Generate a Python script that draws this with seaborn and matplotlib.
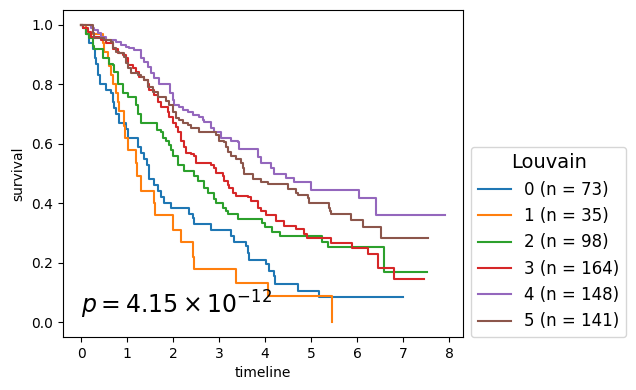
import matplotlib
matplotlib.use("Agg")
import matplotlib.pyplot as plt
import seaborn as sns
import pandas as pd

# Kaplan-Meier step curves: (time, survival after step)
labels = ["0 (n = 73)", "1 (n = 35)", "2 (n = 98)", "3 (n = 164)", "4 (n = 148)", "5 (n = 141)"]

times_0 = [0, 0.05, 0.1, 0.17, 0.26, 0.3, 0.33, 0.37, 0.4, 0.55, 0.65, 0.7, 0.72, 0.76, 0.83, 0.98, 1.02,
           1.24, 1.30, 1.37, 1.44, 1.48, 1.59, 1.67, 1.74, 1.80, 1.96, 2.35, 2.43, 2.46, 2.83, 3.26, 3.33,
           3.59, 3.63, 3.65, 4.02, 4.09, 4.2, 4.22, 4.72, 5.17, 7.0]
surv_0 = [1.0, 0.99, 0.97, 0.94, 0.92, 0.89, 0.87, 0.83, 0.80, 0.78, 0.77, 0.74, 0.72, 0.70, 0.67, 0.65, 0.62,
          0.59, 0.57, 0.55, 0.53, 0.48, 0.46, 0.44, 0.42, 0.40, 0.385, 0.365, 0.35, 0.33, 0.31, 0.29, 0.27,
          0.257, 0.233, 0.21, 0.195, 0.172, 0.155, 0.127, 0.105, 0.084, 0.084]

times_1 = [0, 0.11, 0.48, 0.5, 0.59, 0.61, 0.65, 0.7, 0.76, 0.8, 0.83, 0.93, 0.95, 1.02, 1.2, 1.21, 1.3,
           1.59, 1.60, 2.0, 2.17, 2.43, 2.46, 3.37, 4.06, 5.45]
surv_1 = [1.0, 0.97, 0.94, 0.91, 0.89, 0.86, 0.83, 0.80, 0.77, 0.74, 0.71, 0.66, 0.62, 0.58, 0.535, 0.49, 0.44,
          0.40, 0.36, 0.31, 0.27, 0.22, 0.178, 0.133, 0.088, 0.0]

times_2 = [0, 0.04, 0.11, 0.17, 0.26, 0.28, 0.48, 0.61, 0.7, 0.72, 0.8, 0.81, 0.91, 1.02, 1.2, 1.24, 1.3,
           1.65, 1.74, 1.78, 1.85, 1.91, 1.96, 2.0, 2.11, 2.24, 2.46, 2.54, 2.67, 2.76, 2.89, 2.93, 3.09,
           3.15, 3.2, 3.41, 3.93, 4.0, 4.15, 4.33, 5.24, 5.37, 6.59, 7.52]
surv_2 = [1.0, 0.99, 0.97, 0.955, 0.93, 0.92, 0.89, 0.87, 0.865, 0.84, 0.825, 0.80, 0.77, 0.757, 0.73, 0.70, 0.67,
          0.645, 0.64, 0.62, 0.61, 0.595, 0.58, 0.56, 0.527, 0.507, 0.493, 0.476, 0.45, 0.436, 0.415, 0.40, 0.385,
          0.375, 0.365, 0.348, 0.335, 0.32, 0.304, 0.29, 0.27, 0.253, 0.167, 0.167]

times_3 = [0, 0.04, 0.15, 0.22, 0.43, 0.54, 0.70, 0.80, 0.91, 0.98, 1.02, 1.13, 1.2, 1.26, 1.37, 1.46, 1.48,
           1.59, 1.67, 1.74, 1.89, 1.91, 2.0, 2.07, 2.11, 2.17, 2.24, 2.28, 2.39, 2.46, 2.5, 2.83, 2.89, 2.93,
           3.09, 3.11, 3.2, 3.22, 3.3, 3.37, 3.63, 3.7, 3.85, 3.91, 4.02, 4.24, 4.41, 4.67, 4.85, 4.91, 5.43,
           5.89, 6.24, 6.46, 6.8, 7.46]
surv_3 = [1.0, 0.99, 0.975, 0.96, 0.95, 0.94, 0.92, 0.905, 0.90, 0.89, 0.865, 0.855, 0.84, 0.825, 0.815, 0.80, 0.78,
          0.763, 0.74, 0.725, 0.706, 0.69, 0.67, 0.655, 0.64, 0.61, 0.59, 0.57, 0.567, 0.56, 0.537, 0.527, 0.517, 0.503,
          0.493, 0.476, 0.46, 0.45, 0.436, 0.425, 0.42, 0.409, 0.385, 0.375, 0.36, 0.34, 0.324, 0.314, 0.297, 0.284, 0.267,
          0.25, 0.23, 0.182, 0.145, 0.145]

times_4 = [0, 0.22, 0.28, 0.37, 0.43, 0.54, 0.76, 0.87, 0.98, 1.04, 1.15, 1.3, 1.37, 1.46, 1.52, 1.59, 1.7,
           1.93, 2.0, 2.02, 2.13, 2.22, 2.33, 2.43, 2.57, 2.65, 2.67, 2.83, 2.89, 3.04, 3.26, 3.41, 3.43, 3.85,
           3.91, 4.13, 4.2, 4.46, 4.63, 5.0, 6.04, 6.41, 7.91]
surv_4 = [1.0, 0.99, 0.983, 0.973, 0.96, 0.95, 0.943, 0.932, 0.926, 0.922, 0.916, 0.89, 0.875, 0.858, 0.838, 0.82, 0.80,
          0.77, 0.747, 0.73, 0.723, 0.713, 0.706, 0.696, 0.69, 0.68, 0.672, 0.652, 0.64, 0.618, 0.611, 0.605, 0.584, 0.556,
          0.534, 0.52, 0.50, 0.486, 0.473, 0.446, 0.419, 0.361, 0.361]

times_5 = [0, 0.26, 0.28, 0.5, 0.65, 0.7, 0.76, 0.83, 0.93, 0.98, 1.02, 1.09, 1.24, 1.3, 1.37, 1.46, 1.57,
           1.67, 1.85, 1.91, 2.0, 2.07, 2.13, 2.22, 2.33, 2.39, 2.57, 2.93, 3.0, 3.11, 3.15, 3.2, 3.26, 3.37,
           3.48, 3.52, 3.54, 3.74, 3.87, 3.91, 4.07, 4.5, 4.67, 4.72, 4.93, 4.95, 5.39, 5.41, 5.43, 5.87, 6.13,
           6.52, 7.54]
surv_5 = [1.0, 0.973, 0.956, 0.95, 0.943, 0.922, 0.909, 0.905, 0.892, 0.872, 0.855, 0.838, 0.831, 0.824, 0.814, 0.79, 0.774,
          0.757, 0.745, 0.73, 0.706, 0.686, 0.68, 0.669, 0.662, 0.652, 0.64, 0.628, 0.611, 0.605, 0.588, 0.571, 0.56, 0.55,
          0.537, 0.52, 0.50, 0.483, 0.48, 0.47, 0.463, 0.449, 0.436, 0.426, 0.416, 0.402, 0.385, 0.375, 0.365, 0.345, 0.321,
          0.284, 0.284]

all_times = [times_0, times_1, times_2, times_3, times_4, times_5]
all_surv = [surv_0, surv_1, surv_2, surv_3, surv_4, surv_5]

rows = []
for lab, ts, ss in zip(labels, all_times, all_surv):
    for t, s in zip(ts, ss):
        rows.append({"timeline": t, "survival": s, "Louvain": lab})
df = pd.DataFrame(rows)

plt.rcParams["font.family"] = ["DejaVu Sans"]

fig = plt.figure(figsize=(6.36, 3.9), dpi=100)
ax = fig.add_axes([63 / 636, 1 - 337 / 390, 400 / 636, 327 / 390])
sns.lineplot(data=df, x="timeline", y="survival", hue="Louvain", hue_order=labels,
             palette="tab10", estimator=None, sort=True, drawstyle="steps-post",
             linewidth=1.5, ax=ax)
ax.set_xlim(-0.3955, 8.3055)
ax.set_ylim(-0.05, 1.05)
ax.set_xticks(range(0, 9))
ax.set_yticks([0.0, 0.2, 0.4, 0.6, 0.8, 1.0])
ax.set_xlabel("timeline", fontsize=10)
ax.set_ylabel("survival", fontsize=10)
ax.tick_params(labelsize=10)

ax.text(0.0, 0.03, r"$p = 4.15 \times 10^{-12}$", fontsize=17, ha="left", va="baseline")

leg = ax.legend(title="Louvain", loc="lower left", bbox_to_anchor=(1.02, 0.0),
                fontsize=12, title_fontsize=14, frameon=True, borderaxespad=0.0)

fig.savefig("out.png", dpi=100)
